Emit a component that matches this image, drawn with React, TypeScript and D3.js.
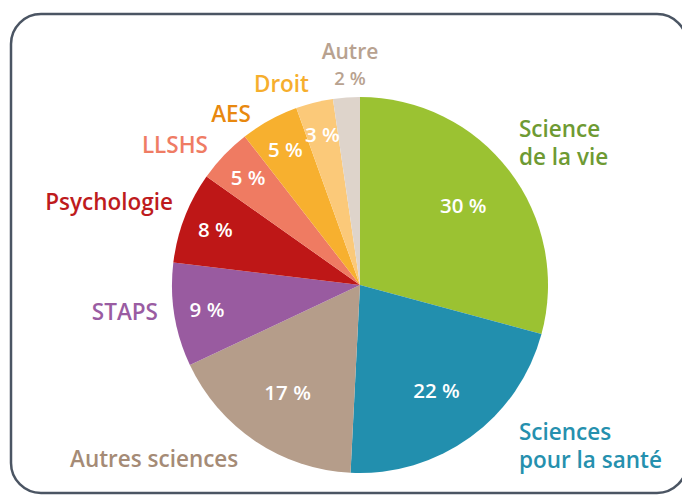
import React, { useRef, useEffect } from "react";
import * as d3 from "d3";

// shares (clockwise from 12 o'clock)
const categories = ["Science de la vie", "Sciences pour la santé", "Autres sciences", "STAPS", "Psychologie", "LLSHS", "AES", "Droit", "Autre"];
const shares = [29.2, 21.6, 17.2, 8.9, 7.9, 4.7, 5.0, 3.2, 2.3];
const pctLabels = ["30 %", "22 %", "17 %", "9 %", "8 %", "5 %", "5 %", "3 %", "2 %"];
const sliceColors = ["#9bc232", "#228fae", "#b59d8a", "#995ba0", "#be1717", "#ef7b62", "#f7b02f", "#fbc979", "#ded4cb"];
const labelColors = ["#6e9a33", "#2590ae", "#a58b76", "#9a5ca2", "#be1b1d", "#ef7c64", "#e8880f", "#f6ae2d", "#b8a290"];

// where the category names sit (x, baseline, anchor)
const namePos: [number, number, string][] = [
    [519, 137, "start"],
    [519, 440, "start"],
    [70, 467, "start"],
    [158, 320, "end"],
    [173, 210, "end"],
    [208, 153, "end"],
    [251, 122, "end"],
    [309, 92, "end"],
    [350, 59, "middle"],
];

export default function App() {
    const ref = useRef<SVGSVGElement>(null);

    useEffect(() => {
        const width = 682, height = 497;
        const cx = 360, cy = 285, radius = 188;
        const font = "'Open Sans', sans-serif";

        const svg = d3.select(ref.current);
        svg.selectAll("*").remove();
        svg.attr("width", width).attr("height", height);

        svg.append("rect")
            .attr("x", 11).attr("y", 14)
            .attr("width", 676).attr("height", 479)
            .attr("rx", 30)
            .attr("fill", "white")
            .attr("stroke", "#4b5563")
            .attr("stroke-width", 2.5);

        const dataset = categories.map((c, i) => ({ name: c, value: shares[i], i }));
        const pie = d3.pie<any>().value(d => d.value).sort(null);
        const arcs = pie(dataset);
        const arc = d3.arc<any>().innerRadius(0).outerRadius(radius);

        const g = svg.append("g").attr("transform", `translate(${cx},${cy})`);

        g.selectAll("path")
            .data(arcs)
            .enter()
            .append("path")
            .attr("d", arc)
            .attr("fill", d => sliceColors[d.data.i]);

        // percent inside the slices (except the smallest)
        g.selectAll("text.pct")
            .data(arcs.filter(d => d.data.i < 8))
            .enter()
            .append("text")
            .attr("class", "pct")
            .attr("transform", d => {
                const r = d.data.value > 15 ? 130 : 155;
                const c = d3.arc<any>().innerRadius(r).outerRadius(r).centroid(d);
                return `translate(${c[0]},${c[1]})`;
            })
            .attr("dy", "0.36em")
            .attr("text-anchor", "middle")
            .attr("fill", "white")
            .attr("font-family", font)
            .attr("font-weight", 600)
            .attr("font-size", 20.5)
            .text(d => pctLabels[d.data.i]);

        // category names
        categories.forEach((name, i) => {
            const [x, y, anchor] = namePos[i];
            const t = svg.append("text")
                .attr("x", x).attr("y", y)
                .attr("text-anchor", anchor)
                .attr("fill", labelColors[i])
                .attr("font-family", font)
                .attr("font-weight", 600)
                .attr("font-size", i === 8 ? 21 : 22.5);
            let lines = [name];
            if (i === 0) lines = ["Science", "de la vie"];
            if (i === 1) lines = ["Sciences", "pour la santé"];
            lines.forEach((l, k) => {
                t.append("tspan").attr("x", x).attr("dy", k === 0 ? 0 : 28).text(l);
            });
        });

        // the "Autre" share goes below its name
        svg.append("text")
            .attr("x", 350).attr("y", 85)
            .attr("text-anchor", "middle")
            .attr("fill", labelColors[8])
            .attr("font-family", font)
            .attr("font-weight", 600)
            .attr("font-size", 18.5)
            .text(pctLabels[8]);
    }, []);

    return (
        <div style={{ position: "absolute", left: 0, top: 0 }}>
            <svg ref={ref} style={{ display: "block" }}></svg>
        </div>
    );
}
